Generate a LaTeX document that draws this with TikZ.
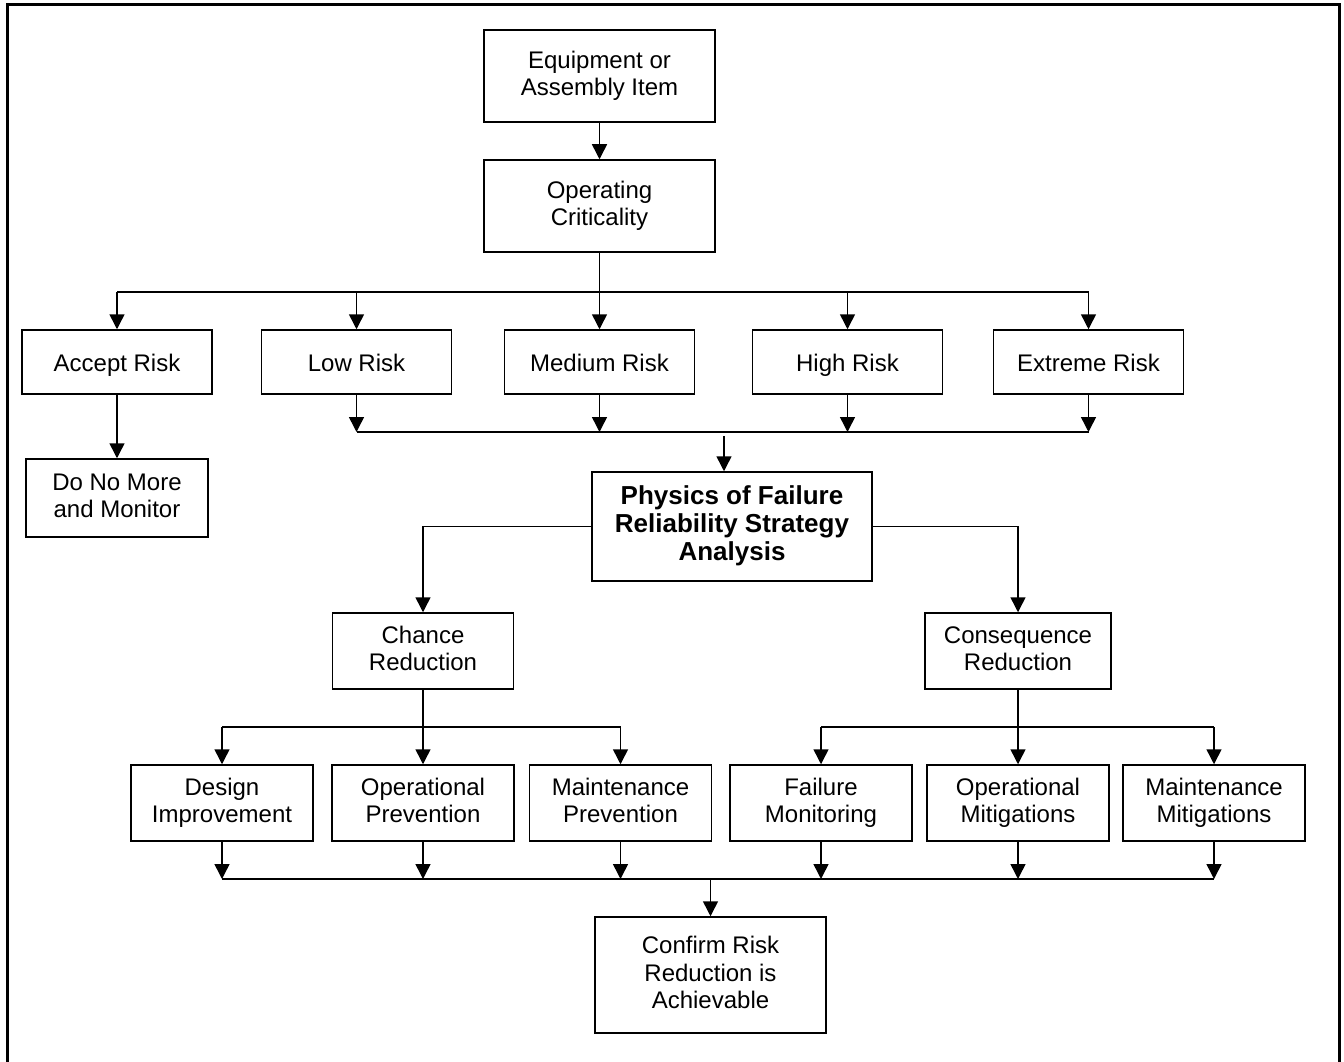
\documentclass[tikz,border=0pt]{standalone}
\usepackage{fontspec}
\setmainfont{Liberation Sans}
\usepackage{tikz}
\usetikzlibrary{arrows.meta}
\usetikzlibrary{calc}
\tikzstyle{line} = [draw, line width=1.5pt, -{Triangle[width=15pt,length=15pt]}]
\tikzstyle{link} = [draw, line width=1.5pt]
\newcommand{\boxstrut}{\rule[-5pt]{0pt}{29pt}}
\newcommand{\boldstrut}{\rule[-6pt]{0pt}{31pt}}

\begin{document}
\begin{tikzpicture}[x=1pt, y=-1pt,
				box/.style = {draw, line width=1.5pt, align=center, inner sep=0pt,
					font=\fontsize{24}{27.5}\selectfont,
					execute at begin node=\boxstrut, execute at end node=\boxstrut},
				risk/.style = {box, minimum width=190pt, minimum height=64pt},
				action/.style = {box, minimum width=182pt, minimum height=76pt}]
				
				\useasboundingbox (0,0) rectangle (1344,1062);
				% Frame
				\draw[line width=3pt] (7,1062) -- (7,5) -- (1339,5) -- (1339,1062);
				
				% Item and criticality
				\node[box, minimum width=231pt, minimum height=92pt] (equip) at (599.5,76) {Equipment or\\Assembly Item};
				\node[box, minimum width=231pt, minimum height=92pt] (oper) at (599.5,206) {Operating\\Criticality};
				
				% Risk levels
				\node[risk] (accept) at (117,362) {Accept Risk};
				\node[risk] (low) at (356.5,362) {Low Risk};
				\node[risk] (medium) at (599.5,362) {Medium Risk};
				\node[risk] (high) at (847.5,362) {High Risk};
				\node[risk] (extreme) at (1088.5,362) {Extreme Risk};
				\node[box, minimum width=182pt, minimum height=78pt] (monitor) at (117,498) {Do No More\\and Monitor};
				
				% Strategy analysis
				\node[box, minimum width=280pt, minimum height=109pt,
					font=\fontsize{26}{28}\selectfont\bfseries,
					execute at begin node=\boldstrut, execute at end node=\boldstrut] (pof) at (732,526.5) {Physics of Failure\\Reliability Strategy\\Analysis};
				\node[box, minimum width=181pt, minimum height=76pt] (chance) at (423,651) {Chance\\Reduction};
				\node[box, minimum width=186pt, minimum height=76pt] (conseq) at (1018,651) {Consequence\\Reduction};
				
				% Actions
				\node[action] (design) at (222,803) {Design\\Improvement};
				\node[action] (opprev) at (423,803) {Operational\\Prevention};
				\node[action] (mprev) at (620.5,803) {Maintenance\\Prevention};
				\node[action] (failmon) at (821,803) {Failure\\Monitoring};
				\node[action] (opmit) at (1018,803) {Operational\\Mitigations};
				\node[action] (mmit) at (1214,803) {Maintenance\\Mitigations};
				
				\node[box, minimum width=231pt, minimum height=116pt] (confirm) at (710.5,975) {Confirm Risk\\Reduction is\\Achievable};
				
				% Connectors
				\draw[line] (equip) -- (oper);
				
				\coordinate (split) at (599.5,292);
				\draw[link] (oper) -- (split);
				\draw[link] (accept.north |- split) -- (extreme.north |- split);
				\foreach \n in {accept,low,medium,high,extreme}
					\draw[line] (\n.north |- split) -- (\n.north);
				\draw[line] (accept) -- (monitor);
				
				\coordinate (join) at (0,432);
				\foreach \n in {low,medium,high,extreme}
					\draw[line] (\n.south) -- (\n.south |- join);
				\draw[link] (low.south |- join) -- (extreme.south |- join);
				\coordinate (gap) at (724,436);
				\draw[line] (gap) -- (gap |- pof.north);
				
				\draw[line] (pof.west) -| (chance.north);
				\draw[line] (pof.east) -| (conseq.north);
				
				\coordinate (split2) at (0,727);
				\draw[link] (chance) -- (chance.south |- split2);
				\draw[link] (design.north |- split2) -- (mprev.north |- split2);
				\foreach \n in {design,opprev,mprev}
					\draw[line] (\n.north |- split2) -- (\n.north);
				\draw[link] (conseq) -- (conseq.south |- split2);
				\draw[link] (failmon.north |- split2) -- (mmit.north |- split2);
				\foreach \n in {failmon,opmit,mmit}
					\draw[line] (\n.north |- split2) -- (\n.north);
				
				\coordinate (join2) at (0,879);
				\foreach \n in {design,opprev,mprev,failmon,opmit,mmit}
					\draw[line] (\n.south) -- (\n.south |- join2);
				\draw[link] (design.south |- join2) -- (mmit.south |- join2);
				\draw[line] (confirm.north |- join2) -- (confirm);
				
		\end{tikzpicture}
\end{document}
